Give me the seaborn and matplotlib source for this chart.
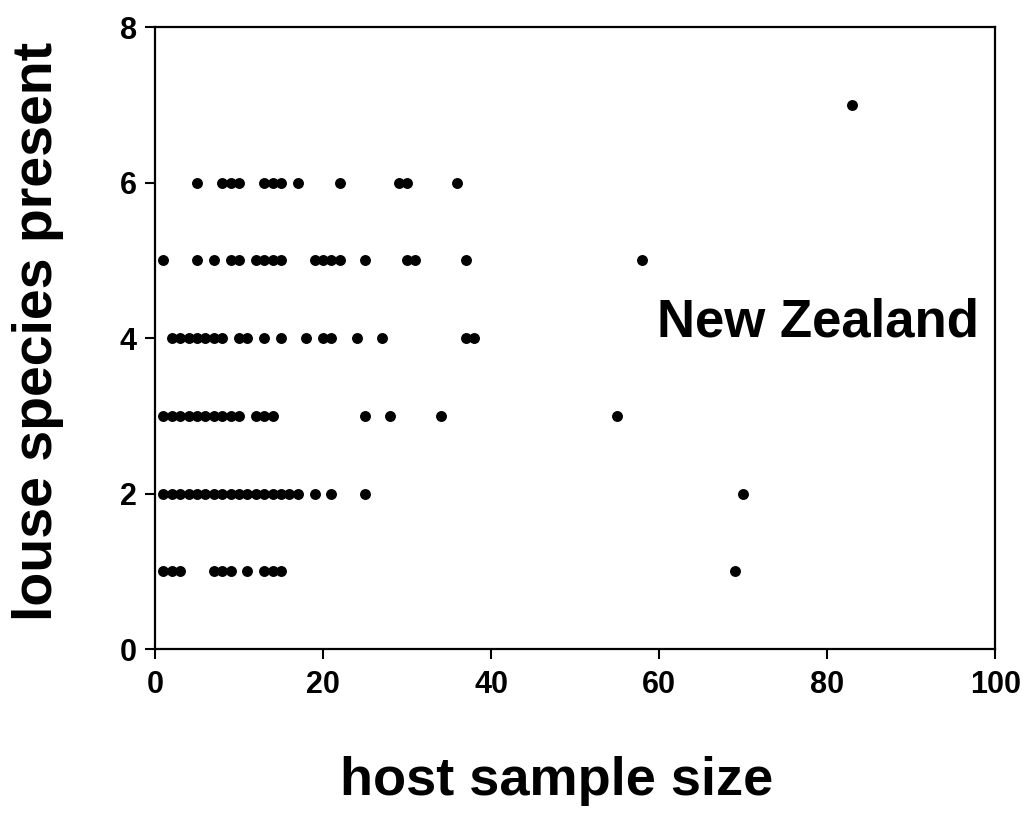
import matplotlib
matplotlib.use("Agg")
import matplotlib.pyplot as plt
import seaborn as sns
import pandas as pd

# host sample size values for each louse-species count
x_1 = [1, 2, 3, 7, 8, 9, 11, 13, 14, 15, 69]
x_2 = [1, 2, 3, 4, 5, 6, 7, 8, 9, 10, 11, 12, 13, 14, 15, 16, 17, 19, 21, 25, 70]
x_3 = [1, 2, 3, 4, 5, 6, 7, 8, 9, 10, 12, 13, 14, 25, 28, 34, 55]
x_4 = [2, 3, 4, 5, 6, 7, 8, 10, 11, 13, 15, 18, 20, 21, 24, 27, 37, 38]
x_5 = [1, 5, 7, 9, 10, 12, 13, 14, 15, 19, 20, 21, 22, 25, 30, 31, 37, 58]
x_6 = [5, 8, 9, 10, 13, 14, 15, 17, 22, 29, 30, 36]
x_7 = [83]

groups = {1: x_1, 2: x_2, 3: x_3, 4: x_4, 5: x_5, 6: x_6, 7: x_7}
rows = [(xv, k) for k, xs in groups.items() for xv in xs]
df = pd.DataFrame(rows, columns=["host sample size", "louse species present"])

x_ticks = [0, 20, 40, 60, 80, 100]
y_ticks = [0, 2, 4, 6, 8]

sns.set_style("white")
plt.rcParams['font.family'] = ['Liberation Sans', 'DejaVu Sans']
plt.rcParams['font.weight'] = 'bold'
plt.rcParams['text.color'] = 'black'
plt.rcParams['xtick.color'] = 'black'
plt.rcParams['ytick.color'] = 'black'

fig = plt.figure(figsize=(10.26, 8.13), dpi=100)
ax = fig.add_axes([0.151, 0.2017, 0.819, 0.765])

sns.scatterplot(data=df, x="host sample size", y="louse species present",
                ax=ax, color="black", s=62, edgecolor="black", linewidth=0,
                marker="o", legend=False)

ax.set_xlim(0, 100)
ax.set_ylim(0, 8)
ax.set_xticks(x_ticks)
ax.set_yticks(y_ticks)
ax.set_xticklabels([str(t) for t in x_ticks], fontsize=22, fontweight='bold', color='black')
ax.set_yticklabels([str(t) for t in y_ticks], fontsize=22, fontweight='bold', color='black')
ax.tick_params(axis='both', which='major', bottom=True, left=True,
               direction='out', length=7, width=1.5, color='black', pad=6)
ax.tick_params(axis='x', pad=8)

for sp in ax.spines.values():
    sp.set_visible(True)
    sp.set_color('black')
    sp.set_linewidth(1.6)

ax.set_xlabel("")
ax.set_ylabel("")
fig.text(0.543, 0.008, "host sample size", ha='center', va='bottom',
         fontsize=39, fontweight='bold', color='black')
fig.text(0.012, 0.592, "louse species present", ha='left', va='center',
         rotation=90, fontsize=40, fontweight='bold', color='black')

ax.text(78.9, 4.2, "New Zealand", ha='center', va='center',
        fontsize=38, fontweight='bold', color='black')

fig.savefig("out.png", dpi=100, facecolor="white")
